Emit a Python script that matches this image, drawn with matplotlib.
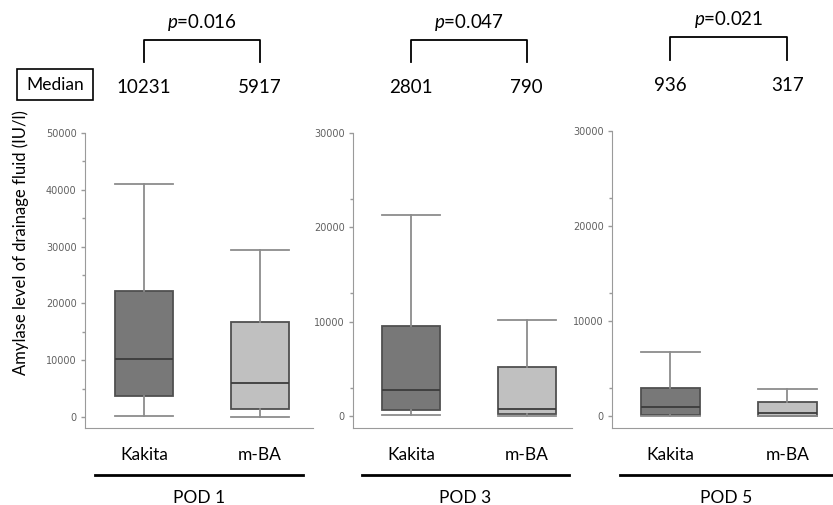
import matplotlib
matplotlib.use("Agg")
import matplotlib.pyplot as plt
import matplotlib.transforms as mtransforms
from matplotlib.patches import Rectangle

# values (IU/l)
groups = ["Kakita", "m-BA"]
pods = ["POD 1", "POD 3", "POD 5"]
p_values = ["0.016", "0.047", "0.021"]
medians = [[10231, 5917], [2801, 790], [936, 317]]
q1 = [[3700, 1350], [640, 200], [100, 50]]
q3 = [[22200, 16800], [9500, 5200], [2950, 1500]]
whislo = [[200, 0], [70, 30], [0, 0]]
whishi = [[41000, 29400], [21300, 10200], [6700, 2850]]
ymax = [50000, 30000, 30000]
yticks = [[0, 10000, 20000, 30000, 40000, 50000],
          [0, 10000, 20000, 30000],
          [0, 10000, 20000, 30000]]

box_colors = ["#787878", "#c0c0c0"]
edge = "#505050"
whisk = "#8c8c8c"
axcol = "#9a9a9a"

plt.rcParams["font.family"] = ["Lato", "DejaVu Sans"]
plt.rcParams["mathtext.fontset"] = "custom"
plt.rcParams["mathtext.it"] = "Lato:italic"
plt.rcParams["mathtext.rm"] = "Lato"

fig = plt.figure(figsize=(8.33, 5.05), dpi=100)
W, H = 833, 505

# axes boxes in pixels: left, right, top (at ymax), bottom
boxes_px = [(85, 313, 133, 428), (353, 572, 133, 428), (612, 833, 131, 428)]
zero_px = [417, 416, 416]
xlims = [(-0.51, 1.46), (-0.5, 1.39), (-0.5, 1.39)]
line_x = [(-0.42, 1.37), (-0.42, 1.36), (-0.43, 1.39)]

for i in range(3):
    l, r, t, b = boxes_px[i]
    ax = fig.add_axes([l / W, (H - b) / H, (r - l) / W, (b - t) / H])
    stats = []
    for j in range(2):
        stats.append(dict(med=medians[i][j], q1=q1[i][j], q3=q3[i][j],
                          whislo=whislo[i][j], whishi=whishi[i][j], fliers=[]))
    bp = ax.bxp(stats, positions=[0, 1], widths=0.5, patch_artist=True,
                boxprops=dict(edgecolor=edge, linewidth=1.3),
                medianprops=dict(color="#3c3c3c", linewidth=1.3),
                whiskerprops=dict(color=whisk, linewidth=1.3),
                capprops=dict(color=whisk, linewidth=1.3),
                capwidths=0.5, showfliers=False)
    for patch, c in zip(bp["boxes"], box_colors):
        patch.set_facecolor(c)

    lower = -(b - zero_px[i]) / (zero_px[i] - t) * ymax[i]
    ax.set_ylim(lower, ymax[i])
    ax.set_xlim(*xlims[i])
    ax.set_yticks(yticks[i])
    ax.set_yticklabels([str(v) for v in yticks[i]], fontfamily="DejaVu Sans")
    ax.set_yticks([v + ymax[i] / 10 for v in yticks[i][:-1]], minor=True)
    ax.tick_params(axis="y", which="both", direction="out", length=3,
                   width=1, color=axcol, labelsize=7, labelcolor="#606060", pad=3)
    ax.tick_params(axis="y", which="minor", length=2)
    ax.set_xticks([0, 1])
    ax.set_xticklabels(groups, fontsize=12.5)
    ax.tick_params(axis="x", length=0, pad=14)
    for s in ["top", "right"]:
        ax.spines[s].set_visible(False)
    ax.spines["left"].set_color(axcol)
    ax.spines["bottom"].set_color(axcol)
    ax.spines["left"].set_bounds(lower, ymax[i])

    tr = mtransforms.blended_transform_factory(ax.transData, ax.transAxes)
    # group underline and POD label
    ax.plot(line_x[i], [-0.159, -0.159], color="black", lw=2,
            transform=tr, clip_on=False)
    ax.text(sum(line_x[i]) / 2, -0.237, pods[i], transform=tr, ha="center",
            va="center", fontsize=12.5)
    # medians
    for j in range(2):
        ax.text(j, 1.136, str(medians[i][j]), transform=tr, ha="center",
                va="baseline", fontsize=13.5)
    # significance bracket
    ax.plot([0, 0, 1, 1], [1.24, 1.315, 1.315, 1.24], color="black", lw=1.3,
            transform=tr, clip_on=False)
    ax.text(0.5, 1.356, r"$\it{p}$=" + p_values[i], transform=tr, ha="center",
            va="baseline", fontsize=13.5)

fig.text(21 / W, 1 - 243 / H, "Amylase level of drainage fluid (IU/l)",
         rotation=90, ha="center", va="center", fontsize=12)
fig.patches.append(Rectangle((17 / W, 1 - 100 / H), 76 / W, 31 / H,
                             transform=fig.transFigure, fill=False,
                             edgecolor="black", lw=1.2))
fig.text(55 / W, 1 - 85 / H, "Median", ha="center", va="center", fontsize=12.5)

fig.savefig("out.png", dpi=100)
